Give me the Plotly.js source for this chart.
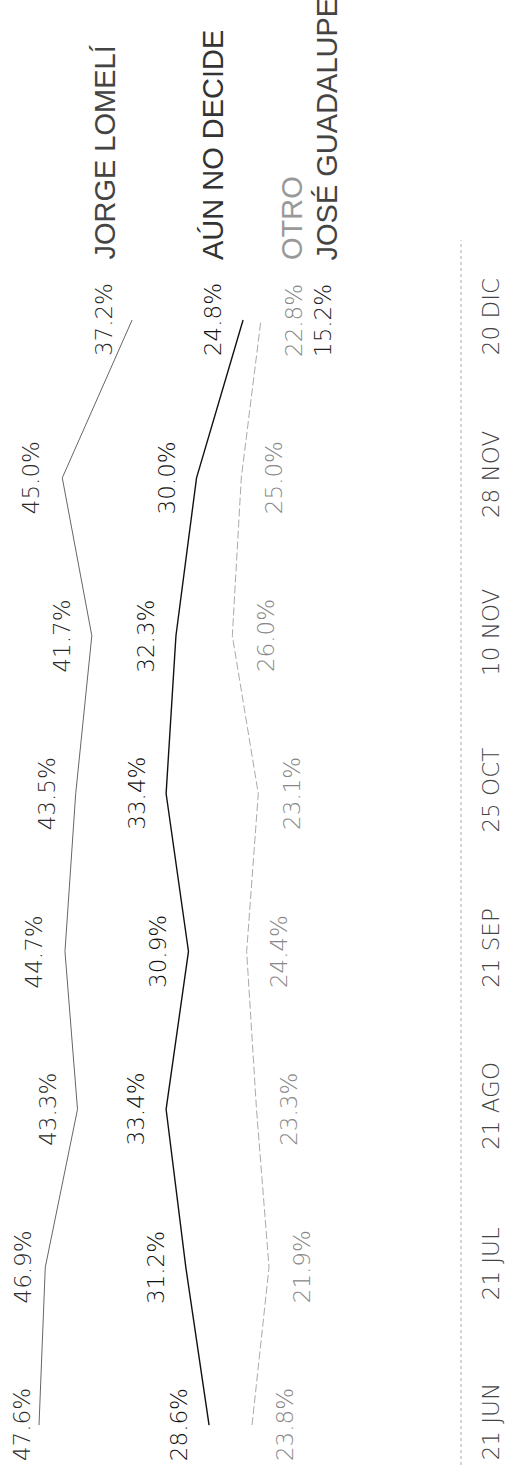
<!DOCTYPE html>
<html>
<head>
<meta charset="utf-8">
<script src="https://cdn.plot.ly/plotly-3.0.1.min.js"></script>
<style>html,body{margin:0;padding:0;background:#fff;}#chart{width:510px;height:1465px;}</style>
</head>
<body>
<div id="chart"></div>
<script>
var dates = ['21 JUN','21 JUL','21 AGO','21 SEP','25 OCT','10 NOV','28 NOV','20 DIC'];
var jorge = [47.6, 46.9, 43.3, 44.7, 43.5, 41.7, 45.0, 37.2];
var aun   = [28.6, 31.2, 33.4, 30.9, 33.4, 32.3, 30.0, 24.8];
var otro  = [23.8, 21.9, 23.3, 24.4, 23.1, 26.0, 25.0, 22.8];
var jose  = [null, null, null, null, null, null, null, 15.2];
var names = ['JORGE LOMELÍ', 'AÚN NO DECIDE', 'OTRO', 'JOSÉ GUADALUPE'];

// label offsets (style, in px)
var jorgeShift = [-17, -22, -29, -31, -29, -30, -31, -28];

var series = [
  {vals: jorge, name: names[0], line: {color:'#666', width:1}, txt:'#2a2a2a', nameCol:'#444', shift:jorgeShift, nameShift:-28},
  {vals: aun,   name: names[1], line: {color:'#111', width:1.4}, txt:'#111', nameCol:'#333', shift:-30, nameShift:-30},
  {vals: otro,  name: names[2], line: {color:'#aaa', width:1, dash:'8px,3px'}, txt:'#888', nameCol:'#999', shift:33, nameShift:31},
  {vals: jose,  name: names[3], line: {color:'#444', width:1}, txt:'#222', nameCol:'#444', shift:-6, nameShift:-2}
];

var valFont = {family:'DejaVu Sans, sans-serif', size:23, weight:300};
var nameFont = {family:'Liberation Sans, Arial, sans-serif', size:29, weight:400};

var traces = [];
var annotations = [];
series.forEach(function(s){
  traces.push({x: s.vals, y: dates, type:'scatter', mode:'lines', line: s.line, name: s.name, hoverinfo:'none', connectgaps:false});
  var last = -1;
  s.vals.forEach(function(v, i){
    if (v === null) return;
    last = i;
    var sh = Array.isArray(s.shift) ? s.shift[i] : s.shift;
    annotations.push({x: v, y: dates[i], xref:'x', yref:'y', text: v.toFixed(1) + '%', showarrow:false,
      textangle:-90, xanchor:'center', yanchor:'middle', xshift: sh,
      font: Object.assign({}, valFont, {color: s.txt})});
  });
  annotations.push({x: s.vals[last], y: dates[last], xref:'x', yref:'y', text: s.name, showarrow:false,
    textangle:-90, xanchor:'center', yanchor:'bottom', xshift: s.nameShift, yshift: 58,
    font: Object.assign({}, nameFont, {color: s.nameCol})});
});

var layout = {
  width:510, height:1465,
  margin:{l:0, r:49, t:0, b:0},
  paper_bgcolor:'#fff', plot_bgcolor:'#fff',
  showlegend:false,
  xaxis:{range:[51.96, 0.45], visible:false, fixedrange:true},
  yaxis:{type:'category', range:[-0.253, 9.027], side:'right', showgrid:false, zeroline:false, showline:false,
    ticks:'', tickangle:-90, ticklabelstandoff:14,
    tickfont:{family:'DejaVu Sans, sans-serif', size:23, weight:300, color:'#444'}},
  shapes:[{type:'line', xref:'paper', yref:'paper', x0:1, x1:1, y0:0, y1:0.836,
    line:{color:'#aaa', width:1, dash:'dot'}}],
  annotations: annotations
};

Plotly.newPlot('chart', traces, layout, {staticPlot:true, displayModeBar:false});
</script>
</body>
</html>
